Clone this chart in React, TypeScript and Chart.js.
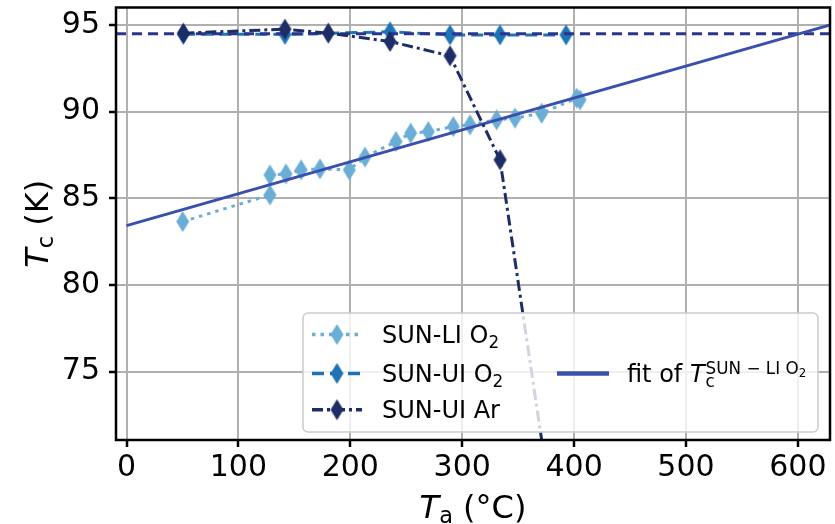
import React, { useEffect, useRef } from "react";
import { Chart, registerables } from "chart.js";

Chart.register(...registerables);

// ---------- data ----------
const xTickValues = [0, 100, 200, 300, 400, 500, 600];
const yTickValues = [75, 80, 85, 90, 95];

const liO2Ta = [50.2, 128.2, 128.2, 142.5, 156, 172.9, 199.1, 213.1, 240.8, 254, 269.7, 292, 307, 330.8, 347.2, 371, 402.3, 405.3];
const liO2Tc = [83.65, 85.19, 86.34, 86.4, 86.63, 86.69, 86.63, 87.37, 88.27, 88.75, 88.84, 89.13, 89.23, 89.52, 89.62, 89.9, 90.77, 90.67];

const uiO2Ta = [50.8, 141.6, 235.5, 289.1, 333.8, 392.8];
const uiO2Tc = [94.45, 94.45, 94.6, 94.42, 94.42, 94.42];

const uiArTa = [50.8, 141.6, 180.3, 235.5, 289.1, 333.8, 390];
const uiArTc = [94.52, 94.75, 94.52, 94.04, 93.21, 87.21, 62.8];

const fitTa = [0, 629];
const fitTc = [83.42, 95.0];

const refTa = [-9.4, 628.7];
const refTc = [94.48, 94.48];

const X_MIN = -9.4;
const X_MAX = 628.7;
const Y_MIN = 71.05;
const Y_MAX = 96.0;

const legendLabels = ["SUN-LI O", "SUN-UI O", "SUN-UI Ar"];

// ---------- styles ----------
const FONT = "'DejaVu Sans', 'Liberation Sans', sans-serif";
const C_LI = "#6aaed6";
const C_UIO2 = "#1f74b6";
const C_AR = "#1d2d68";
const C_REF = "#2b3590";
const C_FIT = "#3b4fae";

const DASH_LI = [3.5, 5];
const DASH_UIO2 = [12, 6];
const DASH_AR = [11, 4, 3, 4];
const DASH_REF = [10, 6];

function diamond(color: string, w = 13, h = 21): HTMLCanvasElement {
  const c = document.createElement("canvas");
  c.width = w + 2;
  c.height = h + 2;
  const g = c.getContext("2d")!;
  g.fillStyle = color;
  g.beginPath();
  g.moveTo(c.width / 2, 1);
  g.lineTo(c.width - 1, c.height / 2);
  g.lineTo(c.width / 2, c.height - 1);
  g.lineTo(1, c.height / 2);
  g.closePath();
  g.fill();
  return c;
}

type Seg = { t: string; size: number; dy?: number; italic?: boolean };

function drawSegs(ctx: CanvasRenderingContext2D, segs: Seg[], x: number, y: number): number {
  let cx = x;
  for (const s of segs) {
    ctx.font = `${s.italic ? "italic " : ""}${s.size}px ${FONT}`;
    ctx.fillText(s.t, cx, y + (s.dy || 0));
    cx += ctx.measureText(s.t).width;
  }
  return cx;
}

function segsWidth(ctx: CanvasRenderingContext2D, segs: Seg[]): number {
  let w = 0;
  for (const s of segs) {
    ctx.font = `${s.italic ? "italic " : ""}${s.size}px ${FONT}`;
    w += ctx.measureText(s.t).width;
  }
  return w;
}

function zeroPad(s: any) {
  s.paddingTop = 0;
  s.paddingBottom = 0;
  s.paddingLeft = 0;
  s.paddingRight = 0;
}

export default function App() {
  const ref = useRef<HTMLCanvasElement | null>(null);

  useEffect(() => {
    document.body.style.margin = "0";
    const canvas = ref.current!;
    const dLI = diamond(C_LI);
    const dUI = diamond(C_UIO2);
    const dAR = diamond(C_AR);

    const pts = (xs: number[], ys: number[]) => xs.map((x, i) => ({ x, y: ys[i] }));

    const overlayPlugin = {
      id: "overlay",
      afterDatasetsDraw(chart: any) {
        const { ctx, chartArea: a } = chart;
        ctx.save();
        ctx.strokeStyle = "#000";
        ctx.lineWidth = 2.5;
        ctx.strokeRect(a.left, a.top, a.right - a.left, a.bottom - a.top);
        ctx.restore();
      },
      afterDraw(chart: any) {
        const { ctx, chartArea: a } = chart;
        ctx.save();
        ctx.fillStyle = "#000";
        ctx.textBaseline = "alphabetic";
        ctx.textAlign = "left";

        // x title
        const xs: Seg[] = [
          { t: "T", size: 32, italic: true },
          { t: "a", size: 22.4, dy: 4.5 },
          { t: " (°C)", size: 32 },
        ];
        const xw = segsWidth(ctx, xs);
        drawSegs(ctx, xs, (a.left + a.right) / 2 - xw / 2, 518);

        // y title
        const ys: Seg[] = [
          { t: "T", size: 32, italic: true },
          { t: "c", size: 22.4, dy: 4.5 },
          { t: " (K)", size: 32 },
        ];
        const yw = segsWidth(ctx, ys);
        ctx.save();
        ctx.translate(48, (a.top + a.bottom) / 2);
        ctx.rotate(-Math.PI / 2);
        drawSegs(ctx, ys, -yw / 2, 0);
        ctx.restore();

        // legend box
        const bx = 303, by = 313, bw = 515, bh = 119, r = 5;
        ctx.beginPath();
        ctx.moveTo(bx + r, by);
        ctx.arcTo(bx + bw, by, bx + bw, by + bh, r);
        ctx.arcTo(bx + bw, by + bh, bx, by + bh, r);
        ctx.arcTo(bx, by + bh, bx, by, r);
        ctx.arcTo(bx, by, bx + bw, by, r);
        ctx.closePath();
        ctx.fillStyle = "rgba(255,255,255,0.8)";
        ctx.fill();
        ctx.strokeStyle = "#cccccc";
        ctx.lineWidth = 1.5;
        ctx.stroke();

        const rows = [334.5, 373.4, 409.7];
        const handles = [
          { c: C_LI, dash: DASH_LI, img: dLI },
          { c: C_UIO2, dash: DASH_UIO2, img: dUI },
          { c: C_AR, dash: DASH_AR, img: dAR },
        ];
        handles.forEach((h, i) => {
          const yy = rows[i];
          ctx.save();
          ctx.strokeStyle = h.c;
          ctx.lineWidth = 3.5;
          ctx.setLineDash(h.dash);
          ctx.beginPath();
          ctx.moveTo(312, yy);
          ctx.lineTo(362, yy);
          ctx.stroke();
          ctx.restore();
          ctx.drawImage(h.img, 337 - h.img.width / 2, yy - h.img.height / 2);
          ctx.fillStyle = "#000";
          const segs: Seg[] =
            i < 2
              ? [
                  { t: legendLabels[i], size: 24 },
                  { t: "2", size: 16.8, dy: 4.5 },
                ]
              : [{ t: legendLabels[i], size: 24 }];
          drawSegs(ctx, segs, 382, yy + 8.7);
        });

        // fit handle
        ctx.save();
        ctx.strokeStyle = C_FIT;
        ctx.lineWidth = 4.5;
        ctx.beginPath();
        ctx.moveTo(557, rows[1]);
        ctx.lineTo(609, rows[1]);
        ctx.stroke();
        ctx.restore();
        ctx.fillStyle = "#000";
        const base = rows[1] + 8.7;
        let fx = drawSegs(ctx, [{ t: "fit of ", size: 24 }, { t: "T", size: 24, italic: true }], 627, base);
        fx += 1;
        drawSegs(ctx, [{ t: "c", size: 16.8, dy: 5 }], fx, base);
        drawSegs(
          ctx,
          [
            { t: "SUN − LI O", size: 16.8, dy: -8.5 },
            { t: "2", size: 11.8, dy: -5 },
          ],
          fx,
          base
        );
        ctx.restore();
      },
    };

    const chart = new Chart(canvas, {
      type: "scatter",
      data: {
        datasets: [
          {
            label: "SUN-UI Ar",
            data: pts(uiArTa, uiArTc),
            showLine: true,
            borderColor: C_AR,
            backgroundColor: C_AR,
            borderWidth: 3,
            borderDash: DASH_AR,
            pointStyle: dAR as any,
            pointRadius: 8,
            order: 0,
            clip: 0,
          },
          {
            label: "fit",
            data: pts(fitTa, fitTc),
            showLine: true,
            borderColor: C_FIT,
            borderWidth: 3,
            pointRadius: 0,
            order: 1,
            clip: 0,
          },
          {
            label: "ref",
            data: pts(refTa, refTc),
            showLine: true,
            borderColor: C_REF,
            borderWidth: 3,
            borderDash: DASH_REF,
            pointRadius: 0,
            order: 2,
            clip: 0,
          },
          {
            label: "SUN-UI O2",
            data: pts(uiO2Ta, uiO2Tc),
            showLine: true,
            borderColor: C_UIO2,
            backgroundColor: C_UIO2,
            borderWidth: 3,
            borderDash: DASH_UIO2,
            pointStyle: dUI as any,
            pointRadius: 8,
            order: 3,
            clip: 0,
          },
          {
            label: "SUN-LI O2",
            data: pts(liO2Ta, liO2Tc),
            showLine: true,
            borderColor: C_LI,
            backgroundColor: C_LI,
            borderWidth: 3,
            borderDash: DASH_LI,
            pointStyle: dLI as any,
            pointRadius: 8,
            order: 4,
            clip: 0,
          },
        ],
      },
      options: {
        animation: false,
        responsive: false,
        events: [],
        layout: { autoPadding: false, padding: { top: 7.5, right: 5, left: 0, bottom: 0 } },
        plugins: { legend: { display: false }, tooltip: { enabled: false } },
        scales: {
          x: {
            type: "linear",
            min: X_MIN,
            max: X_MAX,
            afterFit: (s: any) => {
              s.height = 84;
              zeroPad(s);
            },
            afterBuildTicks: (s: any) => {
              s.ticks = xTickValues.map((v) => ({ value: v }));
            },
            border: { display: false },
            grid: {
              color: "#b0b0b0",
              lineWidth: 2,
              tickColor: "#000",
              tickWidth: 2.5,
              tickLength: 7,
            },
            ticks: {
              color: "#000",
              font: { family: FONT, size: 30, lineHeight: 1.2 },
              padding: 3,
              maxRotation: 0,
              minRotation: 0,
              autoSkip: false,
            },
          },
          y: {
            type: "linear",
            min: Y_MIN,
            max: Y_MAX,
            afterFit: (s: any) => {
              s.width = 116;
              zeroPad(s);
            },
            afterBuildTicks: (s: any) => {
              s.ticks = yTickValues.map((v) => ({ value: v }));
            },
            border: { display: false },
            grid: {
              color: "#b0b0b0",
              lineWidth: 2,
              tickColor: "#000",
              tickWidth: 2.5,
              tickLength: 7,
            },
            ticks: {
              color: "#000",
              font: { family: FONT, size: 30, lineHeight: 1.2 },
              padding: 9,
              autoSkip: false,
            },
          },
        },
      },
      plugins: [overlayPlugin],
    } as any);

    return () => chart.destroy();
  }, []);

  return (
    <canvas
      ref={ref}
      width={835}
      height={524}
      style={{ display: "block", width: "835px", height: "524px" }}
    />
  );
}
